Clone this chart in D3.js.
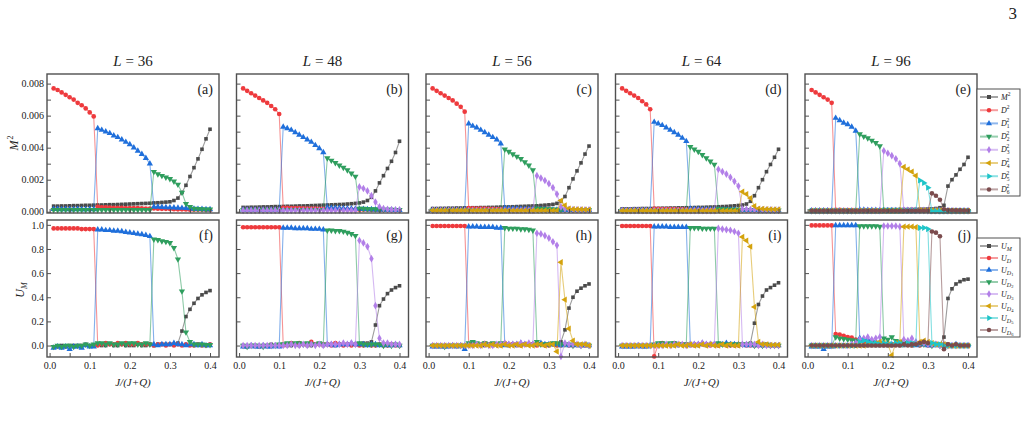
<!DOCTYPE html>
<html>
<head>
<meta charset="utf-8">
<script src="https://cdn.jsdelivr.net/npm/d3@7"></script>
<style>
  body { margin: 0; background: #fff; }
  text { font-family: "Liberation Serif", "Times New Roman", serif; fill: #222; }
</style>
</head>
<body>
<svg width="1025" height="427"></svg>
<script>
// J/(J+Q)
const xs = [0.01,0.02,0.03,0.04,0.05,0.06,0.07,0.08,0.09,0.10,
  0.11,0.12,0.13,0.14,0.15,0.16,0.17,0.18,0.19,0.20,
  0.21,0.22,0.23,0.24,0.25,0.26,0.27,0.28,0.29,0.30,
  0.31,0.32,0.33,0.34,0.35,0.36,0.37,0.38,0.39,0.40];
const sizes = ["36", "48", "56", "64", "96"];
const tagsTop = ["(a)", "(b)", "(c)", "(d)", "(e)"];
const tagsBottom = ["(f)", "(g)", "(h)", "(i)", "(j)"];
const xTicks = [0, 0.05, 0.1, 0.15, 0.2, 0.25, 0.3, 0.35, 0.4];

// ---- top row: squared order parameters, in units of 1e-4 ----
const m36 = [3.5,3.5,3.6,3.6,3.7,3.8,3.8,3.9,4.0,4.0,
  4.1,4.2,4.2,4.3,4.4,4.4,4.5,4.6,4.7,4.8,
  4.9,5.0,5.1,5.2,5.3,5.5,5.6,5.8,6.0,6.2,
  7.0,8.5,12,16.5,22,27.5,33,39,45.5,51.5];
const d36 = [77,76,74.5,73,71.5,70,68,66.5,64.5,62,
  59.5,3.0,2.8,2.7,2.6,2.5,2.5,2.4,2.3,2.3,
  2.2,2.2,2.1,2.0,2.0,2.0,1.9,1.8,1.8,1.7,
  1.6,1.5,1.5,1.4,1.3,1.3,1.2,1.2,1.1,1.1];
const d1_36 = [1.6,1.6,1.5,1.6,1.5,1.5,1.6,1.5,1.5,1.6,
  1.5,52,51,50,49,47.5,46.5,45,43.5,42,
  40,38,36,33.5,30,3.0,3.0,2.8,2.7,2.6,
  2.5,2.4,2.3,2.2,2.0,1.8,1.7,1.6,1.5,1.5];
const d2_36 = [1.2,1.2,1.2,1.2,1.2,1.2,1.2,1.2,1.2,1.2,
  1.2,1.2,1.2,1.2,1.2,1.2,1.2,1.2,1.2,1.2,
  1.2,1.2,1.2,1.2,1.2,25,23.5,22.5,21.5,20.5,
  19,17,12,5,3,2,1.8,1.6,1.5,1.5];

const m48 = [2.7,2.7,2.8,2.8,2.9,3.0,3.0,3.1,3.2,3.2,
  3.3,3.4,3.4,3.5,3.6,3.6,3.7,3.8,3.9,4.0,
  4.1,4.2,4.3,4.4,4.5,4.6,4.8,5.0,5.2,5.5,
  6.0,7.0,9.0,13,18,22.5,27,31.5,37,44];
const d48 = [77,75.5,74,72.5,71,69.5,68,66,64,61,
  2.5,2.4,2.3,2.3,2.2,2.1,2.0,2.0,1.9,1.8,
  1.8,1.7,1.6,1.6,1.5,1.5,1.4,1.4,1.3,1.3,
  1.2,1.2,1.1,1.1,1.0,1.0,1.0,0.9,0.9,0.9];
const d1_48 = [1.2,1.2,1.2,1.2,1.2,1.2,1.2,1.2,1.2,1.2,
  53,52,51,49.5,48,46.5,45,43.5,41.5,39.5,
  37,2.5,2.4,2.3,2.2,2.1,2.0,1.9,1.8,1.7,
  1.6,1.5,1.4,1.3,1.2,1.2,1.1,1.1,1.0,1.0];
const d2_48 = [1.0,1.0,1.0,1.0,1.0,1.0,1.0,1.0,1.0,1.0,
  1.0,1.0,1.0,1.0,1.0,1.0,1.0,1.0,1.0,1.0,
  1.0,33.5,32,30.5,29,27.5,26,24,22,2.0,
  1.9,1.8,1.7,1.6,1.5,1.4,1.3,1.3,1.2,1.2];
const d3_48 = [0.8,0.8,0.8,0.8,0.8,0.8,0.8,0.8,0.8,0.8,
  0.8,0.8,0.8,0.8,0.8,0.8,0.8,0.8,0.8,0.8,
  0.8,0.8,0.8,0.8,0.8,0.8,0.8,0.8,0.8,15.5,
  14.5,13,10,6,3,2,1.5,1.3,1.2,1.2];

const m56 = [2.0,2.0,2.1,2.1,2.2,2.2,2.3,2.3,2.4,2.4,
  2.5,2.5,2.6,2.6,2.7,2.7,2.8,2.9,3.0,3.0,
  3.1,3.2,3.3,3.4,3.5,3.6,3.7,3.9,4.1,4.3,
  4.6,5.2,6.5,9.5,15,20.5,25.5,30.5,36,41];
const d56 = [77,75.5,74,72.5,71,69.5,67.5,65.5,62.5,2.2,
  2.1,2.0,2.0,1.9,1.8,1.8,1.7,1.6,1.6,1.5,
  1.5,1.4,1.4,1.3,1.3,1.2,1.2,1.1,1.1,1.0,
  1.0,1.0,0.9,0.9,0.9,0.8,0.8,0.8,0.8,0.8];
const d1_56 = [1.0,1.0,1.0,1.0,1.0,1.0,1.0,1.0,1.0,55,
  53.5,52.5,51,49.5,48,46.5,45,42.5,2.2,2.1,
  2.0,1.9,1.8,1.7,1.6,1.5,1.4,1.4,1.3,1.2,
  1.2,1.1,1.1,1.0,1.0,1.0,0.9,0.9,0.9,0.9];
const d2_56 = [0.9,0.9,0.9,0.9,0.9,0.9,0.9,0.9,0.9,0.9,
  0.9,0.9,0.9,0.9,0.9,0.9,0.9,0.9,39,37.5,
  36,34.5,33,31,29,26,2.0,1.8,1.7,1.6,
  1.5,1.4,1.3,1.2,1.2,1.1,1.1,1.0,1.0,1.0];
const d3_56 = [0.8,0.8,0.8,0.8,0.8,0.8,0.8,0.8,0.8,0.8,
  0.8,0.8,0.8,0.8,0.8,0.8,0.8,0.8,0.8,0.8,
  0.8,0.8,0.8,0.8,0.8,0.8,22.5,21,19.5,17.5,
  15,11,3,1.8,1.5,1.4,1.3,1.2,1.2,1.1];
const d4_56 = [0.7,0.7,0.7,0.7,0.7,0.7,0.7,0.7,0.7,0.7,
  0.7,0.7,0.7,0.7,0.7,0.7,0.7,0.7,0.7,0.7,
  0.7,0.7,0.7,0.7,0.7,0.7,0.7,0.7,0.7,0.7,
  0.7,0.7,7,4,2,1.6,1.5,1.4,1.3,1.3];

const m64 = [1.8,1.8,1.8,1.9,1.9,2.0,2.0,2.0,2.1,2.1,
  2.2,2.2,2.3,2.3,2.4,2.4,2.5,2.5,2.6,2.7,
  2.7,2.8,2.9,3.0,3.1,3.2,3.3,3.5,3.7,3.9,
  4.2,4.8,6.5,10,15,20,25,29.5,34,39];
const d64 = [77,75.5,74,72.5,71,69,67,64,1.8,1.8,
  1.7,1.7,1.6,1.6,1.5,1.5,1.4,1.4,1.3,1.3,
  1.2,1.2,1.2,1.1,1.1,1.0,1.0,1.0,0.9,0.9,
  0.9,0.8,0.8,0.8,0.8,0.7,0.7,0.7,0.7,0.7];
const d1_64 = [0.9,0.9,0.9,0.9,0.9,0.9,0.9,0.9,56,55,
  54,52.5,51,49.5,48,46,44,1.8,1.7,1.6,
  1.5,1.5,1.4,1.3,1.3,1.2,1.2,1.1,1.1,1.0,
  1.0,1.0,0.9,0.9,0.9,0.8,0.8,0.8,0.8,0.8];
const d2_64 = [0.8,0.8,0.8,0.8,0.8,0.8,0.8,0.8,0.8,0.8,
  0.8,0.8,0.8,0.8,0.8,0.8,0.8,40.5,39,37.5,
  35.5,33.5,31.5,29.5,1.7,1.6,1.5,1.4,1.3,1.3,
  1.2,1.2,1.1,1.1,1.0,1.0,1.0,0.9,0.9,0.9];
const d3_64 = [0.7,0.7,0.7,0.7,0.7,0.7,0.7,0.7,0.7,0.7,
  0.7,0.7,0.7,0.7,0.7,0.7,0.7,0.7,0.7,0.7,
  0.7,0.7,0.7,0.7,26.5,25,23.5,21.5,19,16,
  1.6,1.5,1.4,1.3,1.2,1.2,1.1,1.1,1.0,1.0];
const d4_64 = [0.6,0.6,0.6,0.6,0.6,0.6,0.6,0.6,0.6,0.6,
  0.6,0.6,0.6,0.6,0.6,0.6,0.6,0.6,0.6,0.6,
  0.6,0.6,0.6,0.6,0.6,0.6,0.6,0.6,0.6,0.6,
  12.5,11,8.5,3.5,2,1.8,1.6,1.5,1.4,1.4];

const m96 = [1.0,1.0,1.0,1.0,1.0,1.0,1.0,1.1,1.1,1.1,
  1.1,1.1,1.1,1.2,1.2,1.2,1.2,1.2,1.3,1.3,
  1.3,1.3,1.4,1.4,1.4,1.5,1.5,1.6,1.6,1.7,
  1.8,2.0,2.5,4,16,20,23,26.5,29.5,34];
const d96 = [76,74.5,73,71.5,70,68,1.2,1.2,1.1,1.1,
  1.1,1.0,1.0,1.0,1.0,0.9,0.9,0.9,0.9,0.8,
  0.8,0.8,0.8,0.8,0.7,0.7,0.7,0.7,0.7,0.7,
  0.6,0.6,0.6,0.6,0.6,0.6,0.6,0.6,0.6,0.6];
const d1_96 = [0.7,0.7,0.7,0.7,0.7,0.7,58.5,57,55.5,54.5,
  53,50.5,1.1,1.1,1.0,1.0,1.0,0.9,0.9,0.9,
  0.9,0.8,0.8,0.8,0.8,0.7,0.7,0.7,0.7,0.7,
  0.6,0.6,0.6,0.6,0.6,0.6,0.6,0.6,0.6,0.6];
const d2_96 = [0.6,0.6,0.6,0.6,0.6,0.6,0.6,0.6,0.6,0.6,
  0.6,0.6,48.5,47,46,44.5,43,41,1.0,1.0,
  0.9,0.9,0.9,0.8,0.8,0.8,0.8,0.7,0.7,0.7,
  0.7,0.7,0.6,0.6,0.6,0.6,0.6,0.6,0.6,0.6];
const d3_96 = [0.6,0.6,0.6,0.6,0.6,0.6,0.6,0.6,0.6,0.6,
  0.6,0.6,0.6,0.6,0.6,0.6,0.6,0.6,38,36.5,
  35,33,30,1.0,0.9,0.9,0.8,0.8,0.8,0.7,
  0.7,0.7,0.7,0.6,0.6,0.6,0.6,0.6,0.6,0.6];
const d4_96 = [0.6,0.6,0.6,0.6,0.6,0.6,0.6,0.6,0.6,0.6,
  0.6,0.6,0.6,0.6,0.6,0.6,0.6,0.6,0.6,0.6,
  0.6,0.6,0.6,28,26.5,25,22.5,0.9,0.9,0.8,
  0.8,0.8,0.7,0.7,0.7,0.7,0.6,0.6,0.6,0.6];
const d5_96 = [0.6,0.6,0.6,0.6,0.6,0.6,0.6,0.6,0.6,0.6,
  0.6,0.6,0.6,0.6,0.6,0.6,0.6,0.6,0.6,0.6,
  0.6,0.6,0.6,0.6,0.6,0.6,0.6,19.5,18,15,
  0.3,0.3,0.3,0.3,0.4,0.4,0.5,0.5,0.5,0.5];
const d6_96 = [0.6,0.6,0.6,0.6,0.6,0.6,0.6,0.6,0.6,0.6,
  0.6,0.6,0.6,0.6,0.6,0.6,0.6,0.6,0.6,0.6,
  0.6,0.6,0.6,0.6,0.6,0.6,0.6,0.6,0.6,0.6,
  11.5,10,7.5,1.5,1.0,0.9,0.8,0.8,0.7,0.7];

// ---- bottom row: Binder cumulants, in units of 0.01 ----
const um36 = [-1,-1,0,-1,0,0,0,0,1,0,
  0,1,0,0,1,0,0,1,0,0,
  0,1,0,0,1,0,1,1,1,1,
  1,2,12,24,30,35,39,42,44,45.5];
const ud36 = [97,97,97,97,97,97,97,96.5,96.5,96.5,
  96.5,0,1,2,1,1,2,1,2,1,
  1,2,1,1,1,0,1,1,0,1,
  0,1,0,1,0,0,1,0,0,1];
const ud1_36 = [-2,-1,-2,-1,-3,-1,-1,-2,0,-1,
  -1,96,96,95.5,95.5,95,95,94.5,94,93.5,
  93,92.5,92,91.5,90.5,1,0,1,1,1,
  2,1,1,0,1,1,0,1,0,0];
const ud2_36 = [-1,0,-1,0,0,-1,0,0,1,0,
  1,2,2,1,2,1,1,2,1,2,
  2,1,1,2,1,88,87.5,86.5,86,85,
  81,71.5,45,11,3,1,1,1,0.5,0.5];

const um48 = [0,-1,0,0,-1,0,0,1,0,0,
  1,0,0,1,0,1,0,0,1,1,
  0,1,1,0,1,1,1,1,1,1,
  2,2,3,17,33,38.5,43,46,48,49.5];
const ud48 = [98,98,98,98,98,98,98,98,98,98,
  0,1,2,1,2,1,1,3,1,1,
  1,1,0,2,1,0,1,0,1,0,
  0,1,0,0,1,0,0,1,0,0];
const ud1_48 = [-1,-1,0,-1,-1,0,-1,-1,0,-1,
  97.5,97.5,97.5,97,97,97,97,96.5,96.5,96.5,
  96,1,1,0,1,1,1,2,1,1,
  1,0,1,1,0,1,0,0,1,0];
const ud2_48 = [0,-1,0,0,0,-1,0,0,0,1,
  1,2,1,2,2,1,2,1,1,2,
  1,95.5,95.5,95,95,94.5,93.5,92.5,91,2,
  1,1,1,1,1,0,1,0,1,0];
const ud3_48 = [0,0,0,0,0,0,0,0,0,0,
  0,0,1,0,0,1,0,1,0,1,
  0,1,1,1,1,2,1,2,1,87,
  85,82,72,33,6,2,2,1,1,1];

const um56 = [0,0,0,0,0,0,0,0,0,0,
  0,1,0,0,1,0,1,0,1,0,
  1,0,1,1,1,1,1,1,1,1,
  1,1,3,13,31,40,45,47.5,49.5,51];
const ud56 = [99,99,99,99,99,99,99,99,99,1,
  2,1,1,2,1,1,1,1,2,1,
  1,1,0,1,1,1,0,1,0,0,
  1,0,0,1,0,0,1,0,0,0];
const ud1_56 = [-1,-1,-1,-1,-1,0,-1,0,-3,98.5,
  98.5,98.5,98,98,98,98,97.5,97.5,0,1,
  1,1,2,1,1,1,1,2,1,1,
  1,1,0,1,0,1,0,0,0,0];
const ud2_56 = [0,0,0,-1,0,0,0,0,0,2,
  3,2,1,2,1,2,1,2,97.5,97,
  97,97,96.5,96.5,96,95.5,3,1,1,1,
  2,2,1,1,1,0,1,0,1,0];
const ud3_56 = [0,0,0,0,0,0,0,0,0,0,
  0,1,0,1,0,0,1,1,2,1,
  1,1,2,1,2,1,93,92.5,91,89,
  86,83,-9,2,1,1,1,0,1,0];
const ud4_56 = [0,0,0,0,0,0,0,0,0,0,
  0,0,0,1,0,1,0,0,1,0,
  0,1,0,1,0,0,1,1,0,1,
  1,-5,69,38,14,4,1,1,1,0];

const um64 = [0,0,0,0,0,0,0,0,0,0,
  0,0,1,0,0,1,0,0,1,0,
  1,0,1,1,0,1,1,1,1,1,
  1,1,2,18.5,34,41,46,48,50,52];
const ud64 = [99,99,99,99,99,99,99,99,-9,1,
  2,1,1,2,1,1,1,1,0,1,
  1,1,0,1,0,1,0,0,0,0,
  1,0,0,0,0,0,1,0,0,0];
const ud1_64 = [-1,-1,-1,-1,0,-1,-1,0,98.5,98.5,
  98.5,98.5,98,98,98,98,98,1,1,1,
  2,1,1,1,1,1,2,1,1,1,
  1,0,1,0,1,0,0,0,0,0];
const ud2_64 = [0,0,0,0,0,0,0,0,1,2,
  2,1,2,2,1,1,1,97.5,97.5,97.5,
  97,97,97,97,2,1,1,1,1,1,
  1,1,1,0,1,0,1,0,0,0];
const ud3_64 = [0,0,0,0,0,0,0,0,0,0,
  0,1,0,1,1,1,0,1,1,1,
  2,1,1,1,97,96.5,96,95.5,94.5,93,
  1,1,1,1,0,1,0,0,0,0];
const ud4_64 = [0,0,0,0,0,0,0,0,0,0,
  0,0,0,0,1,0,0,1,0,0,
  1,0,1,0,0,1,0,1,0,0,
  90,87,82,32,3,1,1,0.5,0.5,0.5];

const um96 = [0,0,0,0,0,0,0,0,0,0,
  0,0,0,0,0,0,0,0,0,0,
  0,1,0,0,1,0,1,1,1,1,
  1,1,1,7,39,47,51,53,54.5,55];
const ud96 = [99.5,99.5,99.5,99.5,99.5,99.5,9.5,9,8,7,
  6.5,5,4,3,3,2,2,2,1,1,
  1,2,1,1,1,0,1,0,1,0,
  0,1,0,0,1,0,0,0,0,0];
const ud1_96 = [-1,-1,-1,-3,-1,-1,99.5,99.5,99.5,99.5,
  99.5,99.5,6,5,5,4,3,3,2,2,
  1,1,2,1,1,1,0,1,1,0,
  0,1,0,0,0,0,1,0,0,0];
const ud2_96 = [0,0,0,0,0,0,7,6,5.5,5,
  4.5,4,99,99,99,99,99,98.5,6,5,
  7,4,3,2,2,1,2,1,1,1,
  0,1,0,1,0,0,0,0,0,0];
const ud3_96 = [0,0,0,0,0,0,0,0,0,0,
  1,2,5,6,7,5,6,7,99,99,
  99,99,98.5,5,4,6,3,2,2,1,
  1,1,0,1,0,0,0,0,0,0];
const ud4_96 = [0,0,0,0,0,0,0,0,0,0,
  0,0,0,0,1,1,2,3,2,1,
  -8,2,3,98.5,98.5,98.5,98,3,4,3,
  2,1,1,1,0,0,0,0,0,0];
const ud5_96 = [0,0,0,0,0,0,0,0,0,0,
  0,0,3,4,3,2,2,1,2,1,
  1,2,2,1,2,2,1,97.5,97.5,96.5,
  2,1,1,0,0,0,0,0,0,0];
const ud6_96 = [0,0,0,0,0,0,0,0,0,0,
  0,0,0,0,0,0,0,0,0,0,
  0,0,0,1,0,1,1,2,3,2,
  94.5,93.5,90.5,-3,1,0,1,0,0,0];

const topSets = [
  [m36, d36, d1_36, d2_36],
  [m48, d48, d1_48, d2_48, d3_48],
  [m56, d56, d1_56, d2_56, d3_56, d4_56],
  [m64, d64, d1_64, d2_64, d3_64, d4_64],
  [m96, d96, d1_96, d2_96, d3_96, d4_96, d5_96, d6_96]
];
const bottomSets = [
  [um36, ud36, ud1_36, ud2_36],
  [um48, ud48, ud1_48, ud2_48, ud3_48],
  [um56, ud56, ud1_56, ud2_56, ud3_56, ud4_56],
  [um64, ud64, ud1_64, ud2_64, ud3_64, ud4_64],
  [um96, ud96, ud1_96, ud2_96, ud3_96, ud4_96, ud5_96, ud6_96]
];

// style per series: M, D, D1 .. D6
const colors = ["#4a4a4a", "#ee3a3d", "#1f6fdb", "#2f9e5e", "#b27fe8", "#d4a20c", "#1ec4c8", "#7b4b4d"];
const shapes = [d3.symbolSquare, d3.symbolCircle, d3.symbolTriangle, d3.symbolTriangle,
  d3.symbolDiamond, d3.symbolTriangle, d3.symbolTriangle, d3.symbolCircle];
const rotations = [0, 0, 0, 180, 0, -90, 90, 0];
const subs = ["", "", "1", "2", "3", "4", "5", "6"];

const svg = d3.select("svg");
const frameColor = "#505050";
const panelLeft = [47, 236.5, 426, 615.5, 805];
const panelW = 172;
const rows = [
  { top: 74, h: 139, domain: [-0.8, 86], ticks: [0,10,20,30,40,50,60,70,80],
    fmt: d => d % 20 === 0 ? (d / 1e4).toFixed(3) : "", sets: topSets, tags: tagsTop },
  { top: 220, h: 137, domain: [-9.5, 104], ticks: [0,20,40,60,80,100],
    fmt: d => (d / 100).toFixed(1), sets: bottomSets, tags: tagsBottom }
];

const x = d3.scaleLinear().domain([-0.0065, 0.4224]).range([0, panelW]);

function marker(k, size) {
  return d3.symbol().type(shapes[k]).size(size)();
}

rows.forEach((row, r) => {
  const y = d3.scaleLinear().domain(row.domain).range([row.h, 0]);
  row.sets.forEach((set, c) => {
    const g = svg.append("g").attr("transform", `translate(${panelLeft[c]},${row.top})`);

    set.forEach((vals, k) => {
      const pts = xs.map((xv, i) => [xv, vals[i]]);
      g.append("path")
        .datum(pts)
        .attr("fill", "none")
        .attr("stroke", colors[k])
        .attr("stroke-opacity", 0.55)
        .attr("stroke-width", 1.1)
        .attr("d", d3.line().x(d => x(d[0])).y(d => y(d[1])));
      g.append("g")
        .selectAll("path")
        .data(pts)
        .enter()
        .append("path")
        .attr("d", marker(k, k === 0 ? 13 : 17))
        .attr("fill", colors[k])
        .attr("transform", d => `translate(${x(d[0])},${y(d[1])}) rotate(${rotations[k]})`);
    });

    // axes, ticks pointing inward
    g.append("g")
      .call(d3.axisLeft(y).tickValues(row.ticks).tickSize(-4).tickPadding(3)
        .tickFormat(c === 0 ? row.fmt : () => ""))
      .call(a => a.select(".domain").remove())
      .call(a => a.selectAll("line").attr("stroke", frameColor))
      .call(a => a.selectAll("text").attr("font-size", 10).attr("font-family", "Liberation Serif").attr("fill", "#222"));
    g.append("g")
      .attr("transform", `translate(0,${row.h})`)
      .call(d3.axisBottom(x).tickValues(xTicks).tickSize(-4).tickPadding(5)
        .tickFormat(d => (r === 1 && Math.round(d * 100) % 10 === 0) ? d.toFixed(1) : ""))
      .call(a => a.select(".domain").remove())
      .call(a => a.selectAll("line").attr("stroke", frameColor))
      .call(a => a.selectAll("text").attr("font-size", 10).attr("font-family", "Liberation Serif").attr("fill", "#222"));

    g.append("rect")
      .attr("width", panelW)
      .attr("height", row.h)
      .attr("fill", "none")
      .attr("stroke", frameColor)
      .attr("stroke-width", 1.4);

    g.append("text")
      .attr("x", panelW - 6)
      .attr("y", r === 0 ? 20 : 20)
      .attr("text-anchor", "end")
      .attr("font-size", 14)
      .text(row.tags[c]);

    if (r === 1) {
      const t = g.append("text")
        .attr("x", panelW / 2)
        .attr("y", 166)
        .attr("text-anchor", "middle")
        .attr("font-size", 11)
        .attr("font-style", "italic");
      t.text("J/(J+Q)");
    }
  });
});

// column titles
sizes.forEach((s, c) => {
  const t = svg.append("text")
    .attr("x", panelLeft[c] + panelW / 2)
    .attr("y", 66)
    .attr("text-anchor", "middle")
    .attr("font-size", 15);
  t.append("tspan").attr("font-style", "italic").text("L");
  t.append("tspan").text(" = " + s);
});

// y axis titles
const yl1 = svg.append("text")
  .attr("transform", "translate(18,143) rotate(-90)")
  .attr("text-anchor", "middle")
  .attr("font-size", 12);
yl1.append("tspan").attr("font-style", "italic").text("M");
yl1.append("tspan").attr("font-size", 8).attr("dy", -5).attr("dx", 1).text("2");

const yl2 = svg.append("text")
  .attr("transform", "translate(24,290) rotate(-90)")
  .attr("text-anchor", "middle")
  .attr("font-size", 12);
yl2.append("tspan").attr("font-style", "italic").text("U");
yl2.append("tspan").attr("font-style", "italic").attr("font-size", 8).attr("dy", 3).text("M");

// page number
svg.append("text").attr("x", 1017).attr("y", 19).attr("text-anchor", "end").attr("font-size", 17).text("3");

// legends
function legend(top, h, step, isU) {
  const lg = svg.append("g").attr("transform", `translate(977,${top})`);
  lg.append("rect").attr("width", 43).attr("height", h)
    .attr("fill", "#fff").attr("stroke", frameColor).attr("stroke-width", 1);
  colors.forEach((col, k) => {
    const yy = 8 + k * step;
    lg.append("line").attr("x1", 3).attr("x2", 21).attr("y1", yy).attr("y2", yy)
      .attr("stroke", col).attr("stroke-width", 2).attr("stroke-opacity", 0.5);
    lg.append("path").attr("d", marker(k, 16)).attr("fill", col)
      .attr("transform", `translate(12,${yy}) rotate(${rotations[k]})`);
    const t = lg.append("text").attr("x", 24).attr("y", yy + 2.5).attr("font-size", 8);
    if (!isU) {
      t.append("tspan").attr("font-style", "italic").text(k === 0 ? "M" : "D");
      if (subs[k]) {
        t.append("tspan").attr("font-size", 5.5).attr("dy", 2).text(subs[k]);
        t.append("tspan").attr("font-size", 5.5).attr("dx", -3).attr("dy", -6).text("2");
      } else {
        t.append("tspan").attr("font-size", 5.5).attr("dy", -4).text("2");
      }
    } else {
      t.append("tspan").attr("font-style", "italic").text("U");
      t.append("tspan").attr("font-style", "italic").attr("font-size", 6).attr("dy", 2).text(k === 0 ? "M" : "D");
      if (subs[k]) t.append("tspan").attr("font-size", 4.5).attr("dy", 1.5).text(subs[k]);
    }
  });
}
legend(89, 107, 13.2, false);
legend(238, 99, 12, true);
</script>
</body>
</html>
